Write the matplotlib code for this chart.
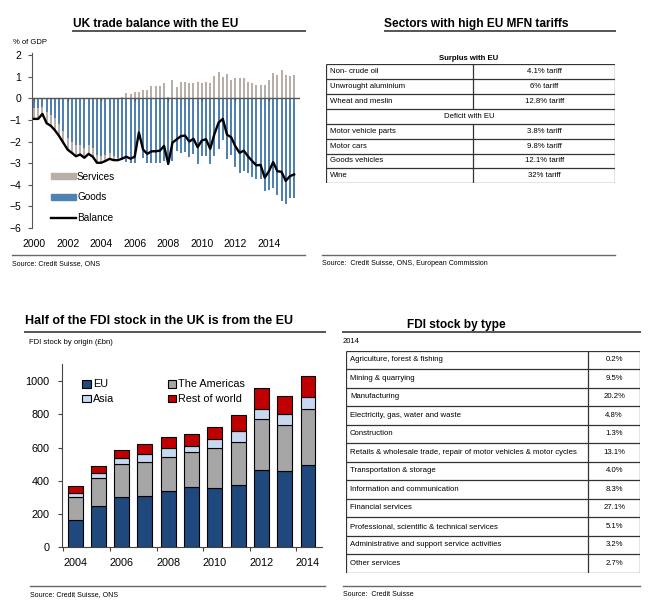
import matplotlib
matplotlib.use("Agg")
import matplotlib.pyplot as plt
import numpy as np
from matplotlib.lines import Line2D
from matplotlib.patches import Patch

W, H = 655, 606
SANS = ['Liberation Sans', 'DejaVu Sans']

# ---- UK trade balance with the EU, quarterly 2000Q1 - 2015Q3 (% of GDP)
quarters = 2000 + np.arange(63) / 4.0
balance = [-0.95, -0.95, -0.72, -1.15, -1.27, -1.48, -1.75, -2.06, -2.37, -2.52,
           -2.68, -2.6, -2.75, -2.57, -2.7, -2.98, -2.98, -2.9, -2.8, -2.86,
           -2.86, -2.79, -2.7, -2.79, -2.7, -1.58, -2.37, -2.57, -2.45, -2.45,
           -2.42, -2.2, -3.03, -2.05, -1.9, -1.75, -1.72, -2.0, -1.87, -2.26,
           -1.95, -1.89, -2.34, -1.65, -1.12, -0.95, -1.68, -1.8, -2.22, -2.52,
           -2.42, -2.68, -2.9, -3.1, -3.08, -3.67, -3.37, -2.95, -3.37, -3.4,
           -3.82, -3.6, -3.52]
services = [-0.5, -0.5, -0.3, -0.5, -0.5, -0.55, -0.55, -0.55, -0.55, -0.5,
            -0.5, -0.45, -0.45, -0.4, -0.4, -0.35, -0.3, -0.3, -0.25, -0.2,
            -0.1, 0.05, 0.25, 0.2, 0.3, 0.3, 0.4, 0.4, 0.55, 0.55,
            0.55, 0.72, 0.05, 0.87, 0.53, 0.76, 0.76, 0.72, 0.72, 0.76,
            0.72, 0.76, 0.72, 1.02, 1.22, 1.0, 1.12, 0.84, 0.96, 0.92,
            0.96, 0.76, 0.72, 0.64, 0.64, 0.61, 0.87, 1.19, 1.1, 1.33,
            1.07, 1.02, 1.1]
goods = [-0.45, -0.45, -0.42, -0.65, -0.77, -0.93, -1.2, -1.51, -1.82, -2.02,
         -2.18, -2.15, -2.3, -2.17, -2.3, -2.63, -2.68, -2.6, -2.55, -2.66,
         -2.76, -2.84, -2.95, -2.99, -3.0, -1.88, -2.77, -2.97, -3.0, -3.0,
         -2.97, -2.92, -3.08, -2.92, -2.43, -2.51, -2.48, -2.72, -2.59, -3.02,
         -2.67, -2.65, -3.06, -2.67, -2.34, -1.95, -2.8, -2.64, -3.18, -3.44,
         -3.38, -3.44, -3.62, -3.74, -3.72, -4.28, -4.24, -4.14, -4.47, -4.73,
         -4.89, -4.62, -4.62]

# ---- Sectors with high EU MFN tariffs
surplus_sectors = ['Non- crude oil', 'Unwrought aluminium', 'Wheat and meslin']
surplus_tariffs = ['4.1% tariff', '6% tariff', '12.8% tariff']
deficit_sectors = ['Motor vehicle parts', 'Motor cars', 'Goods vehicles', 'Wine']
deficit_tariffs = ['3.8% tariff', '9.8% tariff', '12.1% tariff', '32% tariff']

# ---- FDI stock by origin (GBP bn)
fdi_years = np.arange(2004, 2015)
fdi_eu = [164, 248, 300, 309, 337, 363, 355, 373, 465, 459, 497]
fdi_americas = [136, 171, 199, 202, 208, 208, 240, 262, 305, 274, 333]
fdi_asia = [29, 26, 40, 52, 50, 40, 54, 64, 64, 71, 72]
fdi_row = [40, 46, 44, 58, 68, 70, 76, 95, 124, 106, 130]

# ---- FDI stock by type, 2014
fdi_types = ['Agriculture, forest & fishing', 'Mining & quarrying', 'Manufacturing',
             'Electricity, gas, water and waste', 'Construction',
             'Retails & wholesale trade, repair of motor vehicles & motor cycles',
             'Transportation & storage', 'Information and communication',
             'Financial services', 'Professional, scientific & technical services',
             'Administrative and support service activities', 'Other services']
fdi_shares = ['0.2%', '9.5%', '20.2%', '4.8%', '1.3%', '13.1%', '4.0%', '8.3%',
              '27.1%', '5.1%', '3.2%', '2.7%']

TABLE_FS = 5.6


def fx(px):
    return px / W


def fy(py):
    return 1 - py / H


def ax_box(left, top, right, bottom):
    return [fx(left), fy(bottom), (right - left) / W, (bottom - top) / H]


def hline(fig, x0, x1, y, color='#555555', lw=1.4):
    fig.add_artist(Line2D([fx(x0), fx(x1)], [fy(y), fy(y)], color=color, lw=lw,
                          transform=fig.transFigure))


def header(fig, text, x, y, ha='center', size=8.6):
    fig.text(fx(x), fy(y), text, ha=ha, va='center', fontsize=size,
             fontweight='bold', family=SANS)


def source(fig, text, x0, x1, yline, ytext):
    hline(fig, x0, x1, yline, color='#666666', lw=1.0)
    fig.text(fx(x0), fy(ytext), text, ha='left', va='center', fontsize=5,
             family=SANS)


fig = plt.figure(figsize=(W / 100, H / 100), dpi=100)
plt.rcParams['font.family'] = SANS

# ===== panel 1: trade balance
header(fig, 'UK trade balance with the EU', 156, 24)
hline(fig, 73, 305, 31)
fig.text(fx(13), fy(42), '% of GDP', ha='left', va='center', fontsize=5.5)

ax1 = fig.add_axes(ax_box(32, 53, 300, 228))
services_arr = np.array(services)
goods_arr = np.array(goods)
serv_bottom = np.where(services_arr < 0, goods_arr, 0)
ax1.bar(quarters, goods_arr, width=0.12, color='#4f81b3', zorder=2)
ax1.bar(quarters, services_arr, bottom=serv_bottom, width=0.12, color='#b8afa9', zorder=2)
ax1.plot(quarters, balance, color='black', lw=1.7, zorder=4)
ax1.axhline(0, color='#555555', lw=1.0, zorder=3)
ax1.vlines(np.arange(2000, 2016, 2), -0.12, 0, color='#555555', lw=0.8, zorder=3)
ax1.set_xlim(1999.88, 2015.85)
ax1.set_ylim(-6, 2.1)
ax1.set_yticks(range(-6, 3))
ax1.set_xticks(range(2000, 2016, 2))
for s in ['top', 'right', 'bottom']:
    ax1.spines[s].set_visible(False)
ax1.spines['left'].set_color('#555555')
ax1.tick_params(axis='y', length=3, width=0.8, color='#555555', pad=5, labelsize=7.5)
ax1.tick_params(axis='x', length=0, pad=8, labelsize=7.5)
ax1.legend(handles=[Patch(color='#b8afa9', label='Services'),
                    Patch(color='#4f81b3', label='Goods'),
                    Line2D([], [], color='black', lw=1.7, label='Balance')],
           loc='lower left', bbox_to_anchor=(fx(46), fy(228)),
           bbox_transform=fig.transFigure, frameon=False,
           handlelength=2.5, handleheight=0.55, labelspacing=1.05,
           handletextpad=0.1, borderpad=0, fontsize=7.2)

# ===== panel 2: tariffs table
header(fig, 'Sectors with high EU MFN tariffs', 476, 24)
hline(fig, 385, 615, 31)
ax2 = fig.add_axes(ax_box(326, 64.3, 615, 183.3))
ax2.set_xlim(0, 1)
nrows2 = len(surplus_sectors) + 1 + len(deficit_sectors)
ax2.set_ylim(nrows2, 0)
ax2.axis('off')
split = (473.3 - 326) / (615 - 326)
ax2.text(0.495, -0.4, 'Surplus with EU', ha='center', va='center', fontsize=TABLE_FS,
         fontweight='bold')
rows2 = list(zip(surplus_sectors, surplus_tariffs)) + [None] + \
    list(zip(deficit_sectors, deficit_tariffs))
for i, row in enumerate(rows2):
    yc = i + 0.5
    if row is None:
        ax2.text(0.495, yc, 'Deficit with EU', ha='center', va='center',
                 fontsize=TABLE_FS)
    else:
        ax2.text(0.015, yc, row[0], ha='left', va='center', fontsize=TABLE_FS)
        ax2.text((split + 1) / 2, yc, row[1], ha='center', va='center',
                 fontsize=TABLE_FS)
        ax2.vlines(split, i, i + 1, color='#333333', lw=0.9)
ax2.hlines(range(nrows2 + 1), 0, 1, color='#333333', lw=0.9)
ax2.vlines([0, 1], 0, nrows2, color='#333333', lw=0.9)
source(fig, 'Source:  Credit Suisse, ONS, European Commission', 322, 615, 255, 263.5)
source(fig, 'Source: Credit Suisse, ONS', 12, 305, 255, 263.5)

# ===== panel 3: FDI by origin
header(fig, 'Half of the FDI stock in the UK is from the EU', 25, 321.5, ha='left',
       size=9.0)
hline(fig, 25, 325, 331.5)
fig.text(fx(29), fy(342.5), 'FDI stock by origin (\u00a3bn)', ha='left', va='center',
         fontsize=5.5)
ax3 = fig.add_axes(ax_box(62, 364.4, 322, 547.3))
b_eu = np.array(fdi_eu)
b_am = b_eu + np.array(fdi_americas)
b_as = b_am + np.array(fdi_asia)
bw = 0.64
ax3.bar(fdi_years, fdi_eu, width=bw, color='#1f497d', edgecolor='black', lw=0.8, label='EU')
ax3.bar(fdi_years, fdi_americas, bottom=b_eu, width=bw, color='#a6a6a6',
        edgecolor='black', lw=0.8, label='The Americas')
ax3.bar(fdi_years, fdi_asia, bottom=b_am, width=bw, color='#c6d9f0',
        edgecolor='black', lw=0.8, label='Asia')
ax3.bar(fdi_years, fdi_row, bottom=b_as, width=bw, color='#c00000',
        edgecolor='black', lw=0.8, label='Rest of world')
ax3.set_xlim(2003.44, 2014.6)
ax3.set_ylim(0, 1100)
ax3.set_yticks(range(0, 1001, 200))
ax3.set_xticks(range(2004, 2015, 2))
ax3.set_xticks(np.arange(2003.5, 2015, 2), minor=True)
for s in ['top', 'right']:
    ax3.spines[s].set_visible(False)
for s in ['left', 'bottom']:
    ax3.spines[s].set_color('#444444')
ax3.tick_params(axis='y', length=3, width=0.8, color='#444444', pad=6, labelsize=7.8)
ax3.tick_params(axis='x', which='major', length=0, pad=8, labelsize=7.8)
ax3.tick_params(axis='x', which='minor', length=3, width=0.8, color='#444444')
h, l = ax3.get_legend_handles_labels()
order = [0, 2, 1, 3]
ax3.legend([h[i] for i in order], [l[i] for i in order], ncol=2, loc='upper left',
           bbox_to_anchor=(fx(77), fy(374)), bbox_transform=fig.transFigure,
           frameon=False, handlelength=0.75, handleheight=0.75, handletextpad=0.25,
           columnspacing=4.9, labelspacing=0.45, borderpad=0, fontsize=7.8)
source(fig, 'Source: Credit Suisse, ONS', 30, 325, 586, 595)

# ===== panel 4: FDI by type table
header(fig, 'FDI stock by type', 456, 325)
hline(fig, 343, 640, 331.5)
fig.text(fx(343), fy(342), '2014', ha='left', va='center', fontsize=5.5)
ax4 = fig.add_axes(ax_box(346, 350.7, 640, 572.7))
ax4.set_xlim(0, 1)
ax4.set_ylim(len(fdi_types), 0)
ax4.axis('off')
split4 = (588.3 - 346) / (640 - 346)
for i, (name, share) in enumerate(zip(fdi_types, fdi_shares)):
    ax4.text(0.014, i + 0.5, name, ha='left', va='center', fontsize=TABLE_FS)
    ax4.text((split4 + 1) / 2, i + 0.5, share, ha='center', va='center',
             fontsize=TABLE_FS)
ax4.hlines(range(len(fdi_types) + 1), 0, 1, color='#333333', lw=0.9)
ax4.vlines([0, split4, 1], 0, len(fdi_types), color='#333333', lw=0.9)
source(fig, 'Source:  Credit Suisse', 343, 640, 586, 595)

fig.savefig('out.png', dpi=100)
